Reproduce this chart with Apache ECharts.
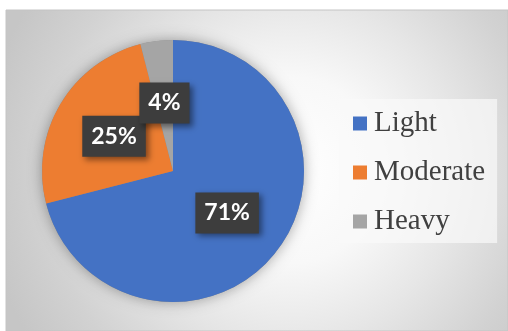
<!DOCTYPE html>
<html>
<head>
<meta charset="utf-8">
<script src="https://cdn.jsdelivr.net/npm/echarts@6/dist/echarts.min.js"></script>
<style>
html,body{margin:0;padding:0;background:#fff;}
#c{width:508px;height:331px;}
</style>
</head>
<body>
<div id="c"></div>
<script>
const categories = ['Light', 'Moderate', 'Heavy'];
const values = [71, 25, 4];
const colors = ['#4472C4', '#ED7D31', '#A5A5A5'];

const chart = echarts.init(document.getElementById('c'), null, {renderer: 'canvas'});
const data = categories.map((n, i) => ({name: n, value: values[i], itemStyle: {color: colors[i]}}));

chart.setOption({
  animation: false,
  graphic: [{
    type: 'rect', z: -10, silent: true,
    shape: {x: 6, y: 10, width: 502, height: 321},
    style: {
      fill: {
        type: 'radial', x: 290, y: 170, r: 310, global: true,
        colorStops: [
          {offset: 0, color: '#ffffff'},
          {offset: 0.3, color: '#f8f8f8'},
          {offset: 0.55, color: '#e6e6e6'},
          {offset: 0.8, color: '#d2d2d2'},
          {offset: 1, color: '#c6c6c6'}
        ]
      },
      stroke: '#c4c4c4', lineWidth: 1
    }
  }],
  legend: {
    orient: 'vertical',
    left: 339, top: 99,
    padding: [10, 12, 7, 14],
    backgroundColor: 'rgba(250,250,250,0.7)',
    itemWidth: 14, itemHeight: 14, itemGap: 20,
    icon: 'rect',
    data: categories,
    textStyle: {fontFamily: 'Liberation Serif', fontSize: 29, lineHeight: 29, color: '#404040', padding: [0, 0, 0, 2]}
  },
  series: [{
    type: 'pie',
    silent: true,
    center: [173, 171],
    radius: 131,
    z: 1,
    label: {show: false},
    labelLine: {show: false},
    itemStyle: {color: '#888', shadowBlur: 14, shadowColor: 'rgba(0,0,0,0.35)'},
    data: [{name: '_bg', value: 1}],
    legendHoverLink: false
  }, {
    type: 'pie',
    center: [173, 171],
    radius: 131,
    startAngle: 90,
    clockwise: true,
    avoidLabelOverlap: false,
    z: 2,
    data: data,
    itemStyle: {borderWidth: 0},
    labelLayout: {hideOverlap: false},
    label: {
      show: true,
      position: 'inside',
      formatter: '{c}%',
      color: '#ffffff',
      fontFamily: 'Lato',
      fontWeight: 'bold',
      fontSize: 23,
      lineHeight: 17,
      backgroundColor: '#3d3d3d',
      padding: [12, 9, 12, 9],
      shadowColor: 'rgba(0,0,0,0.45)',
      shadowBlur: 6,
      shadowOffsetX: 3,
      shadowOffsetY: 3
    },
    labelLine: {show: false}
  }]
});
</script>
</body>
</html>
